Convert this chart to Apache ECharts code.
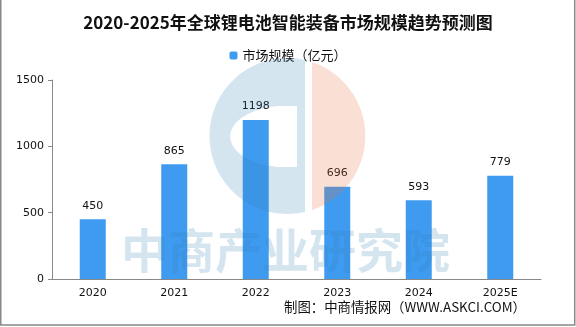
<!DOCTYPE html>
<html>
<head>
<meta charset="utf-8">
<script src="https://cdn.jsdelivr.net/npm/echarts@6/dist/echarts.min.js"></script>
<style>
  html, body { margin: 0; padding: 0; background: #fff; }
  #chart { width: 576px; height: 327px; }
</style>
</head>
<body>
<div id="chart"></div>
<script>
// Global lithium battery intelligent equipment market size, 2020-2025E
const years = ['2020', '2021', '2022', '2023', '2024', '2025E'];
const marketSize = [450, 865, 1198, 696, 593, 779];
const yTicks = { min: 0, max: 1500, interval: 500 };

const titleText = '2020-2025年全球锂电池智能装备市场规模趋势预测图';
const seriesName = '市场规模（亿元）';
const sourceText = '制图：中商情报网（WWW.ASKCI.COM）';
const brandText = '中商产业研究院';

// Faint brand emblem: blue "C" on the left, salmon half disc on the right
const cx = 287, cy = 136, r = 78;
const bluePath =
  'M ' + (cx + 18) + ' ' + (cy - r + 2) +
  ' A ' + r + ' ' + r + ' 0 1 0 ' + (cx + 18) + ' ' + (cy + r - 2) + ' Z' +
  ' M ' + (cx + 10) + ' ' + (cy - 30) +
  ' L ' + (cx + 10) + ' ' + (cy + 31) +
  ' L ' + (cx - 10) + ' ' + (cy + 31) +
  ' A 57 31 0 0 1 ' + (cx - 10) + ' ' + (cy - 30) + ' Z';
const salmonPath =
  'M ' + (cx + 25) + ' ' + (cy - r + 4) +
  ' A ' + r + ' ' + r + ' 0 0 1 ' + (cx + 25) + ' ' + (cy + r - 4) + ' Z';

echarts.graphic.registerShape('emblemBlue', echarts.graphic.extendPath(bluePath, {}));
echarts.graphic.registerShape('emblemSalmon', echarts.graphic.extendPath(salmonPath, {}));

const chart = echarts.init(document.getElementById('chart'), null, { renderer: 'canvas' });

chart.setOption({
  animation: false,
  backgroundColor: '#ffffff',
  title: {
    text: titleText,
    left: 'center',
    top: 9,
    textStyle: {
      fontFamily: '"Noto Sans CJK SC", serif',
      fontSize: 17,
      fontWeight: 'bold',
      color: '#111'
    }
  },
  legend: {
    data: [seriesName],
    top: 44,
    left: 'center',
    itemWidth: 8,
    itemHeight: 8,
    itemGap: 3,
    textStyle: { fontFamily: '"Noto Sans CJK SC", sans-serif', fontSize: 13, color: '#111', padding: [0, 0, 0, 0] }
  },
  grid: { left: 52, right: 35, top: 80, bottom: 48, containLabel: false },
  xAxis: {
    type: 'category',
    data: years,
    axisLine: { lineStyle: { color: '#888', width: 1 } },
    axisTick: { inside: true, length: 5, alignWithLabel: false, lineStyle: { color: '#888' } },
    axisLabel: { fontFamily: '"DejaVu Sans", sans-serif', fontSize: 11, color: '#111', margin: 9 }
  },
  yAxis: {
    type: 'value',
    min: yTicks.min,
    max: yTicks.max,
    interval: yTicks.interval,
    axisLine: { show: true, lineStyle: { color: '#888', width: 1 } },
    axisTick: { show: true, length: 4, lineStyle: { color: '#888' } },
    splitLine: { show: false },
    axisLabel: {
      fontFamily: '"DejaVu Sans", sans-serif', fontSize: 11, color: '#111', margin: 8,
      formatter: v => String(v)
    }
  },
  series: [{
    name: seriesName,
    type: 'bar',
    data: marketSize,
    barWidth: 26,
    itemStyle: { color: '#3f9bf0' },
    label: {
      show: true,
      position: 'top',
      distance: 8,
      fontFamily: '"DejaVu Sans", sans-serif',
      fontSize: 11,
      color: '#111'
    }
  }],
  graphic: [
    {
      type: 'emblemBlue', z: 50, silent: true,
      style: { fill: '#2f7fb5', opacity: 0.2, fillRule: 'evenodd' }
    },
    {
      type: 'emblemSalmon', z: 50, silent: true,
      style: { fill: '#e8703a', opacity: 0.22 }
    },
    {
      type: 'text', z: 50, silent: true,
      left: 121, top: 227,
      style: {
        text: brandText,
        fontFamily: '"Noto Sans CJK SC", sans-serif',
        fontSize: 47,
        fontWeight: 'bold',
        fill: '#2f7fb5',
        opacity: 0.2
      }
    },
    {
      type: 'text', z: 60,
      left: 284, top: 300,
      style: {
        text: sourceText,
        fontFamily: '"Noto Sans CJK SC", sans-serif',
        fontSize: 13.4,
        fill: '#111'
      }
    },
    {
      type: 'rect', z: 60, silent: true,
      shape: { x: 0.75, y: -1, width: 574, height: 326 },
      style: { fill: 'none', stroke: '#888', lineWidth: 1.5 }
    }
  ]
});
</script>
</body>
</html>
